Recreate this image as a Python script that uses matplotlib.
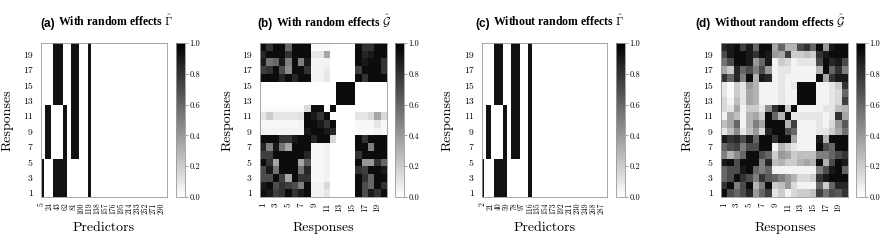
import numpy as np
import matplotlib
matplotlib.use("Agg")
import matplotlib.pyplot as plt

plt.rcParams['mathtext.fontset'] = 'cm'
plt.rcParams['font.family'] = 'serif'
plt.rcParams['font.serif'] = ['cmr10', 'DejaVu Serif']
plt.rcParams['axes.formatter.use_mathtext'] = True

# ---------------- data ----------------
n_resp = 20
n_pred = 300
resp_tick_labels = [1, 3, 5, 7, 9, 11, 13, 15, 17, 19]
pred_tick_labels_a = [5, 24, 43, 62, 81, 100, 119, 138, 157, 176, 195, 214, 233, 252, 271, 290]
pred_tick_labels_c = [2, 21, 40, 59, 78, 97, 116, 135, 154, 173, 192, 211, 230, 249, 268, 287]
pred_first_label_a = 5
pred_first_label_c = 2

# blocks of selected predictors: (first column, last column excl., first response, last response, prob)
gamma_blocks_a = [(2, 6, 1, 5, 0.93), (10, 23, 6, 12, 0.93), (29, 52, 13, 20, 0.93),
                  (29, 62, 1, 5, 0.93), (52, 61, 6, 12, 0.93), (71, 91, 6, 20, 0.93),
                  (111, 120, 1, 20, 0.93)]
gamma_blocks_c = [(0, 5, 1, 5, 0.93), (9, 21, 6, 12, 0.93), (29, 51, 13, 20, 0.93),
                  (29, 61, 1, 5, 0.93), (51, 61, 6, 12, 0.93), (69, 91, 6, 20, 0.93),
                  (111, 120, 1, 20, 0.93)]

# graph edge probabilities, rows listed from response 20 (top) down to response 1
g_with_rows = [
    [0.95,0.8,0.95,0.95,0.6,0.95,0.95,0.95, 0.02,0.02,0.02,0, 0,0,0, 0.95,0.8,0.8,0.95,0.95],
    [0.85,0.95,0.95,0.95,0.8,0.95,0.95,0.95, 0.1,0.1,0.35,0, 0,0,0, 0.95,0.85,0.9,0.95,0.95],
    [0.9,0.55,0.6,0.9,0.5,0.95,0.5,0.9, 0.05,0.05,0.05,0, 0,0,0, 0.95,0.9,0.95,0.95,0.8],
    [0.75,0.8,0.95,0.7,0.45,0.95,0.95,0.8, 0.05,0.05,0.08,0, 0,0,0, 0.75,0.95,0.95,0.95,0.8],
    [0.95,0.95,0.95,0.85,0.95,0.85,0.95,0.95, 0.05,0.05,0.1,0, 0,0,0, 0.95,0.8,0.95,0.95,0.95],
    [0,0,0,0,0,0,0,0, 0,0,0,0, 0.95,0.95,0.95, 0,0,0,0,0],
    [0,0,0,0,0,0,0,0, 0,0,0,0, 0.95,0.95,0.95, 0,0,0,0,0],
    [0,0,0,0,0,0,0,0, 0,0,0,0, 0.95,0.95,0.95, 0,0,0,0,0],
    [0.02,0.02,0.02,0.02,0.02,0.02,0.02,0.15, 0.95,0.95,0.0,0.95, 0,0,0, 0,0,0,0,0],
    [0.1,0.2,0.1,0.1,0.1,0.1,0.12,0.95, 0.9,0.8,0.95,0.0, 0,0,0, 0.1,0.1,0.15,0.35,0.15],
    [0.03,0.03,0.03,0.03,0.03,0.03,0.05,0.95, 0.95,0.9,0.8,0.95, 0,0,0, 0.03,0.03,0.03,0.1,0.03],
    [0.05,0.05,0.05,0.05,0.05,0.05,0.05,0.9, 0.95,0.95,0.9,0.85, 0,0,0, 0.03,0.03,0.03,0.05,0.03],
    [0.95,0.95,0.95,0.8,0.8,0.9,0.95,0.95, 0.85,0.95,0.95,0.15, 0,0,0, 0.95,0.8,0.95,0.95,0.95],
    [0.85,0.5,0.9,0.55,0.35,0.95,0.95,0.95, 0.03,0.03,0.05,0, 0,0,0, 0.95,0.95,0.5,0.95,0.95],
    [0.75,0.75,0.95,0.95,0.95,0.95,0.95,0.85, 0.03,0.03,0.05,0, 0,0,0, 0.8,0.95,0.95,0.95,0.95],
    [0.95,0.8,0.35,0.95,0.95,0.95,0.35,0.65, 0.03,0.03,0.05,0, 0,0,0, 0.95,0.4,0.4,0.8,0.6],
    [0.7,0.9,0.55,0.95,0.95,0.95,0.55,0.85, 0.03,0.03,0.05,0, 0,0,0, 0.8,0.75,0.95,0.95,0.9],
    [0.7,0.7,0.95,0.75,0.35,0.95,0.8,0.8, 0.03,0.03,0.05,0, 0,0,0, 0.95,0.8,0.6,0.95,0.95],
    [0.9,0.95,0.7,0.8,0.75,0.7,0.5,0.95, 0.05,0.05,0.15,0.0, 0,0,0, 0.95,0.7,0.6,0.95,0.8],
    [0.95,0.9,0.75,0.8,0.95,0.8,0.9,0.95, 0.05,0.05,0.1,0.0, 0,0,0, 0.95,0.7,0.9,0.8,0.95],
]

g_without_rows = [
    [0.85,0.9,0.95,0.75,0.9,0.6,0.95,0.95,0.35,0.6,0.3,0.3,0.7,0.8,0.6,0.95,0.4,0.9,0.95,0.95],
    [0.7,0.9,0.95,0.95,0.9,0.8,0.95,0.9,0.4,0.35,0.75,0.2,0.2,0.25,0.2,0.8,0.9,0.95,0.95,0.95],
    [0.55,0.7,0.95,0.95,0.9,0.4,0.6,0.9,0.05,0.2,0.15,0.05,0.1,0.1,0.1,0.7,0.95,0.85,0.9,0.7],
    [0.35,0.2,0.85,0.6,0.7,0.5,0.7,0.4,0.05,0.1,0.1,0.05,0.05,0.05,0.05,0.3,0.95,0.6,0.8,0.5],
    [0.8,0.6,0.85,0.5,0.95,0.3,0.9,0.85,0.05,0.1,0.05,0.05,0.05,0.05,0.05,0.95,0.35,0.8,0.9,0.9],
    [0.1,0.02,0.2,0.1,0.4,0.3,0.05,0.05,0.05,0.1,0.05,0.1,0.95,0.95,0.95,0.05,0.05,0.1,0.2,0.8],
    [0.1,0.02,0.2,0.1,0.35,0.3,0.05,0.05,0.05,0.1,0.05,0.05,0.95,0.95,0.95,0.05,0.05,0.1,0.15,0.6],
    [0.15,0.05,0.25,0.1,0.35,0.3,0.05,0.05,0.05,0.1,0.05,0.05,0.95,0.95,0.95,0.05,0.05,0.1,0.15,0.75],
    [0.15,0.1,0.35,0.05,0.2,0.2,0.1,0.45,0.8,0.95,0.2,0.95,0.05,0.05,0.05,0.05,0.1,0.1,0.25,0.3],
    [0.05,0.35,0.25,0.05,0.3,0.35,0.2,0.95,0.6,0.3,0.95,0.1,0.1,0.1,0.1,0.1,0.05,0.1,0.8,0.35],
    [0.25,0.35,0.6,0.05,0.3,0.5,0.35,0.95,0.95,0.95,0.3,0.75,0.05,0.05,0.05,0.1,0.05,0.15,0.4,0.65],
    [0.1,0.25,0.45,0.1,0.25,0.4,0.15,0.85,0.95,0.95,0.7,0.6,0.05,0.05,0.05,0.1,0.1,0.2,0.35,0.55],
    [0.9,0.8,0.85,0.7,0.9,0.6,0.95,0.95,0.8,0.95,0.95,0.35,0.05,0.05,0.05,0.9,0.3,0.95,0.95,0.95],
    [0.6,0.7,0.75,0.5,0.7,0.7,0.95,0.95,0.05,0.3,0.2,0.1,0.05,0.05,0.05,0.95,0.7,0.6,0.95,0.95],
    [0.5,0.3,0.45,0.6,0.95,0.95,0.7,0.6,0.2,0.4,0.35,0.2,0.25,0.25,0.25,0.5,0.5,0.6,0.7,0.8],
    [0.9,0.95,0.7,0.95,0.95,0.95,0.5,0.85,0.25,0.3,0.2,0.2,0.3,0.35,0.3,0.95,0.3,0.7,0.95,0.9],
    [0.6,0.7,0.7,0.9,0.95,0.6,0.5,0.6,0.05,0.05,0.05,0.05,0.05,0.05,0.05,0.5,0.7,0.9,0.95,0.6],
    [0.6,0.7,0.95,0.8,0.7,0.5,0.8,0.65,0.6,0.5,0.4,0.3,0.15,0.15,0.2,0.8,0.9,0.95,0.95,0.95],
    [0.8,0.95,0.5,0.7,0.95,0.3,0.5,0.95,0.2,0.25,0.4,0.15,0.05,0.05,0.05,0.6,0.2,0.6,0.85,0.85],
    [0.95,0.7,0.6,0.7,0.85,0.4,0.6,0.75,0.1,0.2,0.05,0.15,0.2,0.2,0.25,0.75,0.55,0.7,0.65,0.8],
]

titles = [("(a)", "With random effects $\\hat{\\Gamma}$"),
          ("(b)", "With random effects $\\hat{\\mathcal{G}}$"),
          ("(c)", "Without random effects $\\hat{\\Gamma}$"),
          ("(d)", "Without random effects $\\hat{\\mathcal{G}}$")]


def gamma_matrix(blocks):
    M = np.zeros((n_resp, n_pred))
    for c0, c1, r0, r1, v in blocks:
        M[r0 - 1:r1, c0:c1] = v
    return M


Ma = gamma_matrix(gamma_blocks_a)
Mc = gamma_matrix(gamma_blocks_c)
Mb = np.array(g_with_rows)[::-1]
Md = np.array(g_without_rows)[::-1]

W, H = 880, 249
fig = plt.figure(figsize=(W / 100, H / 100), dpi=100)

def px_axes(x0, x1, y0, y1):
    return fig.add_axes([x0 / W, 1 - y1 / H, (x1 - x0) / W, (y1 - y0) / H])

panels = [
    dict(M=Ma, hx=(41, 167), cb=(176, 185), kind='gamma', ticks=pred_tick_labels_a, first=pred_first_label_a,
         ylab=8, xlab=104, tcx=107, xl="Predictors"),
    dict(M=Mb, hx=(260, 387), cb=(395, 404), kind='graph', ylab=228, xlab=323.5, tcx=324, xl="Responses"),
    dict(M=Mc, hx=(482, 607), cb=(616, 625), kind='gamma', ticks=pred_tick_labels_c, first=pred_first_label_c,
         ylab=448, xlab=545, tcx=550, xl="Predictors"),
    dict(M=Md, hx=(721, 848), cb=(856, 865), kind='graph', ylab=688, xlab=785, tcx=770.5, xl="Responses"),
]

y_top, y_bot = 43, 197
fig.canvas.draw()
renderer = fig.canvas.get_renderer()

for i, p in enumerate(panels):
    ax = px_axes(p['hx'][0], p['hx'][1], y_top, y_bot)
    M = p['M']
    ny, nx = M.shape
    mesh = ax.pcolormesh(np.arange(nx + 1), np.arange(ny + 1), M, cmap='gray_r', vmin=0, vmax=1,
                         rasterized=True)
    ax.set_xlim(0, nx)
    ax.set_ylim(0, ny)
    ax.set_yticks([r - 0.5 for r in resp_tick_labels])
    ax.set_yticklabels([str(r) for r in resp_tick_labels], fontsize=7)
    if p['kind'] == 'gamma':
        ax.set_xticks([t - p['first'] + 0.5 for t in p['ticks']])
        ax.set_xticklabels([str(t) for t in p['ticks']], rotation=90, fontsize=5.5)
    else:
        ax.set_xticks([r - 0.5 for r in resp_tick_labels])
        ax.set_xticklabels([str(r) for r in resp_tick_labels], rotation=90, fontsize=6.5)
    ax.tick_params(axis='both', length=0, pad=6)
    ax.tick_params(axis='x', pad=4)
    for s in ax.spines.values():
        s.set_color('#999999')
        s.set_linewidth(0.6)

    cax = px_axes(p['cb'][0], p['cb'][1], y_top, y_bot)
    cbar = fig.colorbar(mesh, cax=cax, ticks=[0, 0.2, 0.4, 0.6, 0.8, 1.0])
    cbar.ax.set_yticklabels(['0.0', '0.2', '0.4', '0.6', '0.8', '1.0'], fontsize=6)
    cbar.ax.tick_params(length=2, width=0.5, pad=1, color='#777777')
    cbar.outline.set_edgecolor('#999999')
    cbar.outline.set_linewidth(0.6)

    # axis labels
    fig.text(p['ylab'] / W, 1 - ((y_top + y_bot) / 2) / H, "Responses", rotation=90,
             ha='center', va='center', fontsize=10)
    fig.text(p['xlab'] / W, 1 - 228 / H, p['xl'], ha='center', va='center', fontsize=10)

    # title in two parts
    lab, rest = titles[i]
    t1 = fig.text(0, 0, lab, fontsize=8.5, fontweight='bold', family='Liberation Sans', va='baseline')
    t2 = fig.text(0, 0, rest, fontsize=8.5, fontweight='bold', family='Liberation Serif', va='baseline')
    w1 = t1.get_window_extent(renderer).width
    w2 = t2.get_window_extent(renderer).width
    gap = 3
    total = w1 + gap + w2
    x0 = p['tcx'] - total / 2
    yb = 1 - 26.5 / H
    t1.set_position((x0 / W, yb))
    t2.set_position(((x0 + w1 + gap) / W, yb))

fig.savefig("out.png", dpi=100)
